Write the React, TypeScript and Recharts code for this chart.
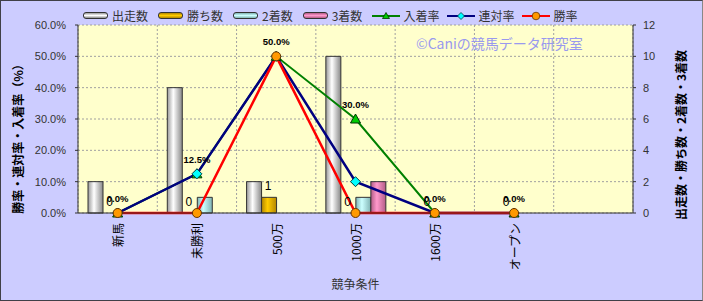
import React from 'react';
import {
  ComposedChart, Bar, Line, XAxis, YAxis, CartesianGrid, Legend, LabelList,
} from 'recharts';

const categories = ['新馬', '未勝利', '500万', '1000万', '1600万', 'オープン', ''];
const starts = [2, 8, 2, 10, 0, 0, null];
const wins = [0, 0, 1, 0, 0, 0, null];
const seconds = [0, 1, 0, 1, 0, 0, null];
const thirds = [0, 0, 0, 2, 0, 0, null];
const placeRate = [0, 12.5, 50, 30, 0, 0, null];
const rentaiRate = [0, 12.5, 50, 10, 0, 0, null];
const winRate = [0, 0, 50, 0, 0, 0, null];
const leftTicks = [0, 10, 20, 30, 40, 50, 60];
const rightTicks = [0, 2, 4, 6, 8, 10, 12];
const gridTicks = [0, 1, 2, 3, 4, 5, 6, 7];

const data = categories.map((c, i) => ({
  cat: c,
  idx: i + 0.5,
  starts: starts[i],
  wins: wins[i],
  seconds: seconds[i],
  thirds: thirds[i],
  placeRate: placeRate[i],
  rentaiRate: rentaiRate[i],
  winRate: winRate[i],
}));

const FONT = "'Liberation Sans', 'Noto Sans CJK JP', sans-serif";
const JFONT = "'Noto Sans CJK JP', 'Liberation Sans', sans-serif";

const Tri = (p: any) => {
  const { cx, cy, value, index } = p;
  if (value == null || cx == null) return <g key={'t' + index} />;
  return (
    <polygon key={'t' + index}
      points={`${cx},${cy - 5} ${cx - 5},${cy + 4} ${cx + 5},${cy + 4}`}
      fill="#00CC00" stroke="#003300" strokeWidth={1} />
  );
};
const Dia = (p: any) => {
  const { cx, cy, value, index } = p;
  if (value == null || cx == null) return <g key={'d' + index} />;
  return (
    <polygon key={'d' + index}
      points={`${cx},${cy - 5} ${cx + 5},${cy} ${cx},${cy + 5} ${cx - 5},${cy}`}
      fill="#00FFFF" stroke="#004040" strokeWidth={1} />
  );
};
const Circ = (p: any) => {
  const { cx, cy, value, index } = p;
  if (value == null || cx == null) return <g key={'c' + index} />;
  return <circle key={'c' + index} cx={cx} cy={cy} r={4.5} fill="#FF9900" stroke="#663300" strokeWidth={1} />;
};

const XTick = (p: any) => {
  const { x, y, payload } = p;
  return (
    <text transform={`translate(${x},${y + 2}) rotate(-90)`} textAnchor="end"
      dominantBaseline="central" fontSize={12} fill="#000" fontFamily={JFONT}>
      {payload.value}
    </text>
  );
};

const LeftTitle = (p: any) => {
  const vb = p.viewBox || {};
  const cy = (vb.y ?? 25) + (vb.height ?? 188) / 2 + 17;
  return (
    <text transform={`translate(17,${cy}) rotate(-90)`} textAnchor="middle" dominantBaseline="central"
      fontSize={12} fontWeight="bold" fill="#000" fontFamily={JFONT}>
      勝率・連対率・入着率（%）
    </text>
  );
};
const RightTitle = (p: any) => {
  const vb = p.viewBox || {};
  const cy = (vb.y ?? 25) + (vb.height ?? 188) / 2 + 16;
  return (
    <text transform={`translate(680,${cy}) rotate(-90)`} textAnchor="middle" dominantBaseline="central"
      fontSize={12} fontWeight="bold" fill="#000" fontFamily={JFONT}>
      出走数・勝ち数・2着数・3着数
    </text>
  );
};

const barItems = [
  { name: '出走数', grad: 'gStarts' },
  { name: '勝ち数', grad: 'gWins' },
  { name: '2着数', grad: 'gSeconds' },
  { name: '3着数', grad: 'gThirds' },
];
const lineItems = [
  { name: '入着率', color: '#008000', marker: 'tri' },
  { name: '連対率', color: '#000080', marker: 'dia' },
  { name: '勝率', color: '#FF0000', marker: 'circ' },
];
const legendGrad: Record<string, string[]> = {
  gStarts: ['#999', '#fff', '#888'],
  gWins: ['#B38600', '#FFCC00', '#B38600'],
  gSeconds: ['#80B3B3', '#CCFFFF', '#80B3B3'],
  gThirds: ['#B35C86', '#FF99CC', '#B35C86'],
};

const LegendContent = () => (
  <div style={{ display: 'flex', alignItems: 'center', height: 19, fontFamily: JFONT, fontSize: 12, color: '#333', whiteSpace: 'nowrap' }}>
    {barItems.map((b) => {
      const g = legendGrad[b.grad];
      return (
        <div key={b.name} style={{ display: 'flex', alignItems: 'center', marginRight: 10 }}>
          <div style={{ width: 23, height: 5, border: '1px solid #333', borderRadius: 3, background: `linear-gradient(to bottom, ${g[0]}, ${g[1]}, ${g[2]})`, marginRight: 4 }} />
          <span>{b.name}</span>
        </div>
      );
    })}
    {lineItems.map((l) => (
      <div key={l.name} style={{ display: 'flex', alignItems: 'center', marginRight: 8 }}>
        <svg width={28} height={12} style={{ marginRight: 3 }}>
          <line x1={0} y1={6} x2={28} y2={6} stroke={l.color} strokeWidth={2} />
          {l.marker === 'tri' && <polygon points="14,2.5 10.5,8.5 17.5,8.5" fill="#00CC00" stroke="#003300" strokeWidth={0.8} />}
          {l.marker === 'dia' && <polygon points="14,2.5 17.5,6 14,9.5 10.5,6" fill="#00FFFF" stroke="#004040" strokeWidth={0.8} />}
          {l.marker === 'circ' && <circle cx={14} cy={6} r={3.8} fill="#FF9900" stroke="#663300" strokeWidth={0.8} />}
        </svg>
        <span>{l.name}</span>
      </div>
    ))}
  </div>
);

export default function App() {
  return (
    <div style={{ position: 'absolute', left: 0, top: 0, width: 703, height: 301, background: '#CCCCFF', overflow: 'hidden' }}>
      <ComposedChart width={703} height={301} data={data}
        margin={{ top: 6, right: 0, bottom: 0, left: 0 }}
        barCategoryGap={10} barGap={0}>
        <defs>
          {Object.keys(legendGrad).map((k) => (
            <linearGradient key={k} id={k} x1="0" y1="0" x2="1" y2="0">
              <stop offset="0%" stopColor={legendGrad[k][0]} />
              <stop offset="40%" stopColor={legendGrad[k][1]} />
              <stop offset="100%" stopColor={legendGrad[k][2]} />
            </linearGradient>
          ))}
        </defs>
        <Legend verticalAlign="top" align="left" height={19}
          wrapperStyle={{ top: 6, left: 83, width: 'auto' }} content={LegendContent} />
        <XAxis xAxisId="grid" type="number" dataKey="idx" domain={[0, 7]} ticks={gridTicks} hide />
        <CartesianGrid xAxisId="grid" yAxisId="left" stroke="#A0A0A0" strokeDasharray="2 2" fill="#FFFFCC" />
        <XAxis dataKey="cat" interval={0} height={88} tickLine={false}
          axisLine={{ stroke: '#333' }} tick={<XTick />}
          label={{ value: '競争条件', position: 'insideBottom', offset: 12, fontSize: 12, fill: '#333', fontFamily: JFONT }} />
        <YAxis yAxisId="left" width={78} domain={[0, 60]} ticks={leftTicks}
          tickFormatter={(v: number) => v.toFixed(1) + '%'}
          tick={{ fontSize: 11, fill: '#333', fontFamily: FONT }}
          tickSize={3} tickMargin={9} axisLine={{ stroke: '#333' }} tickLine={{ stroke: '#333' }}
          label={<LeftTitle />} />
        <YAxis yAxisId="right" orientation="right" width={70} domain={[0, 12]} ticks={rightTicks}
          tick={{ fontSize: 11, fill: '#333', fontFamily: FONT, textAnchor: 'start' }}
          tickSize={3} tickMargin={7} axisLine={{ stroke: '#333' }} tickLine={{ stroke: '#333' }}
          label={<RightTitle />} />
        <Bar yAxisId="right" dataKey="starts" name="出走数" fill="url(#gStarts)" stroke="#333" strokeWidth={1} isAnimationActive={false} />
        <Bar yAxisId="right" dataKey="wins" name="勝ち数" fill="url(#gWins)" stroke="#333" strokeWidth={1} isAnimationActive={false} />
        <Bar yAxisId="right" dataKey="seconds" name="2着数" fill="url(#gSeconds)" stroke="#333" strokeWidth={1} isAnimationActive={false} />
        <Bar yAxisId="right" dataKey="thirds" name="3着数" fill="url(#gThirds)" stroke="#333" strokeWidth={1} isAnimationActive={false} />
        <Line yAxisId="right" dataKey="wins" legendType="none" stroke="none" dot={false} activeDot={false} isAnimationActive={false}>
          <LabelList dataKey="wins" position="top" offset={7} dx={-8} fontSize={12} fill="#000" fontFamily={FONT} />
        </Line>
        <Line yAxisId="left" dataKey="placeRate" name="入着率" stroke="#008000" strokeWidth={2} dot={Tri} activeDot={false} isAnimationActive={false}>
          <LabelList dataKey="placeRate" position="top" offset={11}
            formatter={(v: any) => (v == null ? '' : Number(v).toFixed(1) + '%')}
            fontSize={9.5} fontWeight="bold" fill="#000" fontFamily={FONT} />
        </Line>
        <Line yAxisId="left" dataKey="rentaiRate" name="連対率" stroke="#000080" strokeWidth={2.5} dot={Dia} activeDot={false} isAnimationActive={false} />
        <Line yAxisId="left" dataKey="winRate" name="勝率" stroke="#FF0000" strokeWidth={2.5} dot={Circ} activeDot={false} isAnimationActive={false} />
      </ComposedChart>
      <div style={{ position: 'absolute', left: 416, top: 33, fontFamily: JFONT, fontSize: 14, color: '#9999EE', whiteSpace: 'nowrap', pointerEvents: 'none' }}>
        ©Caniの競馬データ研究室
      </div>
      <div style={{ position: 'absolute', left: 0, top: 0, width: 703, height: 301, boxSizing: 'border-box', border: '1px solid #404048', borderRightColor: '#888', pointerEvents: 'none' }} />
    </div>
  );
}
